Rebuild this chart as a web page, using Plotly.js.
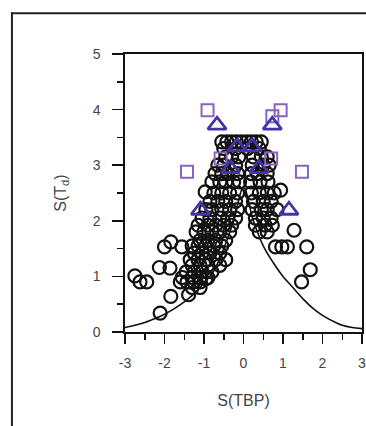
<!DOCTYPE html>
<html>
<head>
<meta charset="utf-8">
<script src="https://cdn.plot.ly/plotly-3.0.1.min.js"></script>
<style>html,body{margin:0;padding:0;background:#fff;}#chart{width:366px;height:426px;}</style>
</head>
<body>
<div id="chart"></div>
<script>
// Black open circles
var circleX = [
  -0.55,-0.42,-0.3,-0.18,-0.05,0.08,0.2,0.32,0.45,
  -0.5,-0.2,0.1,0.4,
  -0.45,-0.3,-0.12,0.25,0.45,0.6,
  -0.65,-0.5,-0.2,0.22,0.5,0.65,
  -0.72,-0.55,-0.4,-0.15,0.2,0.35,0.6,
  -0.8,-0.6,-0.45,-0.25,-0.1,0.18,0.42,0.62,
  -0.97,-0.75,-0.55,-0.35,-0.15,0.2,0.4,0.6,0.78,0.94,
  -0.85,-0.65,-0.45,-0.2,0.25,0.5,0.7,
  -0.95,-0.8,-0.55,-0.35,-0.15,0.22,0.45,0.6,0.85,
  -1.05,-0.85,-0.6,-0.4,-0.2,0.3,0.5,0.7,
  -1.15,-0.9,-0.7,-0.5,-0.3,0.3,0.55,0.73,
  -1.2,-1.0,-0.8,-0.6,-0.35,0.4,0.6,
  -1.1,-0.9,-0.7,-0.45,
  -1.3,-1.15,-0.95,-0.75,-0.55,
  -1.25,-1.05,-0.85,-0.6,
  -1.35,-1.15,-0.95,-0.7,-0.45,
  -1.3,-1.1,-0.9,-0.6,
  -1.45,-1.25,-1.05,-0.8,
  -1.55,-1.3,-1.1,-0.9,
  -1.6,-1.43,-1.26,-1.09,-0.95,
  -1.3,-1.1,
  -1.39,
  -2.75,-2.62,-2.45,-2.13,-1.86,-2.0,-1.84,-1.56,-1.84,-2.11,
  1.28,0.81,0.97,1.11,1.6,1.47,1.69
];
var circleY = [
  3.42,3.42,3.42,3.42,3.42,3.42,3.42,3.42,3.42,
  3.3,3.3,3.3,3.3,
  3.15,3.15,3.15,3.15,3.15,3.15,
  3.0,3.0,3.0,3.0,3.0,3.0,
  2.85,2.85,2.85,2.85,2.85,2.85,2.85,
  2.7,2.7,2.7,2.7,2.7,2.7,2.7,2.7,
  2.52,2.5,2.5,2.5,2.5,2.5,2.5,2.5,2.5,2.55,
  2.35,2.35,2.35,2.35,2.35,2.35,2.35,
  2.2,2.2,2.2,2.2,2.2,2.2,2.2,2.2,2.2,
  2.05,2.05,2.05,2.05,2.05,2.05,2.05,2.05,
  1.92,1.92,1.92,1.92,1.92,1.92,1.92,1.92,
  1.8,1.8,1.8,1.8,1.8,1.8,1.8,
  1.65,1.65,1.65,1.65,
  1.55,1.55,1.55,1.55,1.55,
  1.42,1.42,1.42,1.42,
  1.3,1.3,1.3,1.3,1.3,
  1.2,1.2,1.2,1.2,
  1.08,1.08,1.08,1.08,
  0.98,0.98,0.98,0.98,
  0.9,0.9,0.9,0.9,0.96,
  0.8,0.8,
  0.67,
  1.01,0.9,0.9,1.16,1.15,1.53,1.62,1.53,0.64,0.34,
  1.83,1.53,1.53,1.53,1.53,0.9,1.12
];
// Purple open squares
var squareX = [-0.91,0.94,0.73,-1.43,1.48,-0.58,0.70];
var squareY = [3.99,3.99,3.88,2.88,2.88,3.12,3.12];
// Blue-violet open triangles
var triX = [-0.67,0.73,-0.16,0.22,-0.33,0.39,-1.09,1.15];
var triY = [3.72,3.72,3.33,3.33,2.94,2.94,2.19,2.19];
// Reference curve
var curveX = [-3,-2.75,-2.5,-2.25,-2,-1.75,-1.5,-1.25,-1,-0.75,-0.5,-0.25,0,0.25,0.5,0.75,1,1.25,1.5,1.75,2,2.25,2.5,2.75,3];
var curveY = [0.08,0.12,0.17,0.24,0.32,0.42,0.54,0.69,0.88,1.1,1.5,2.0,2.6,2.0,1.55,1.25,1.0,0.8,0.6,0.43,0.3,0.2,0.12,0.08,0.06];
// Tick labels
var xTicks = [-3,-2,-1,0,1,2,3];
var yTicks = [0,1,2,3,4,5];

var traces = [
  {x: curveX, y: curveY, mode: 'lines', line: {color: '#111', width: 1.6, shape: 'spline'}, hoverinfo: 'skip'},
  {x: circleX, y: circleY, mode: 'markers', marker: {symbol: 'circle-open', size: 13, color: '#111', line: {width: 2.2, color: '#111'}}},
  {x: squareX, y: squareY, mode: 'markers', marker: {symbol: 'square-open', size: 12, color: '#8a62c2', line: {width: 2, color: '#8a62c2'}}},
  {x: triX, y: triY, mode: 'markers', marker: {symbol: 'triangle-up-open', size: 16, color: '#4433a6', line: {width: 2.8, color: '#4433a6'}}}
];

var fontFam = 'Liberation Sans, Arial, sans-serif';
var layout = {
  width: 366, height: 426,
  margin: {l: 125, r: 4, t: 54, b: 94},
  paper_bgcolor: '#fff', plot_bgcolor: '#fff',
  showlegend: false,
  font: {family: fontFam, color: '#444', size: 14},
  xaxis: {
    range: [-3, 3], tickvals: xTicks, ticktext: xTicks.map(String),
    showgrid: false, zeroline: false, showline: true, linecolor: '#111', linewidth: 1.6, mirror: true,
    ticks: 'outside', ticklen: 10, tickwidth: 1.5, tickcolor: '#111', ticklabelstandoff: 8,
    ticklabeloverflow: 'allow',
    minor: {dtick: 0.5, ticks: 'outside', ticklen: 6, tickwidth: 1.5, tickcolor: '#111', showgrid: false},
    tickfont: {size: 14, color: '#444'},
    title: {text: 'S(TBP)', font: {size: 16, color: '#444'}, standoff: 24}
  },
  yaxis: {
    range: [0, 5], tickvals: yTicks, ticktext: yTicks.map(String),
    showgrid: false, zeroline: false, showline: true, linecolor: '#111', linewidth: 1.6, mirror: true,
    ticks: 'outside', ticklen: 11, tickwidth: 1.5, tickcolor: '#111', ticklabelstandoff: 9,
    ticklabeloverflow: 'allow',
    minor: {dtick: 0.5, ticks: 'outside', ticklen: 6, tickwidth: 1.5, tickcolor: '#111', showgrid: false},
    tickfont: {size: 14, color: '#444'},
    title: {text: 'S(T<sub>d</sub>)', font: {size: 16, color: '#444'}, standoff: 22}
  },
  shapes: [
    {type: 'line', xref: 'paper', yref: 'paper', x0: -0.477, x1: -0.477, y0: 1.15, y1: -0.35, line: {color: '#222', width: 2}},
    {type: 'line', xref: 'paper', yref: 'paper', x0: -0.481, x1: 1.05, y0: 1.147, y1: 1.147, line: {color: '#222', width: 2}}
  ]
};

Plotly.newPlot('chart', traces, layout, {displayModeBar: false, staticPlot: true});
</script>
</body>
</html>
